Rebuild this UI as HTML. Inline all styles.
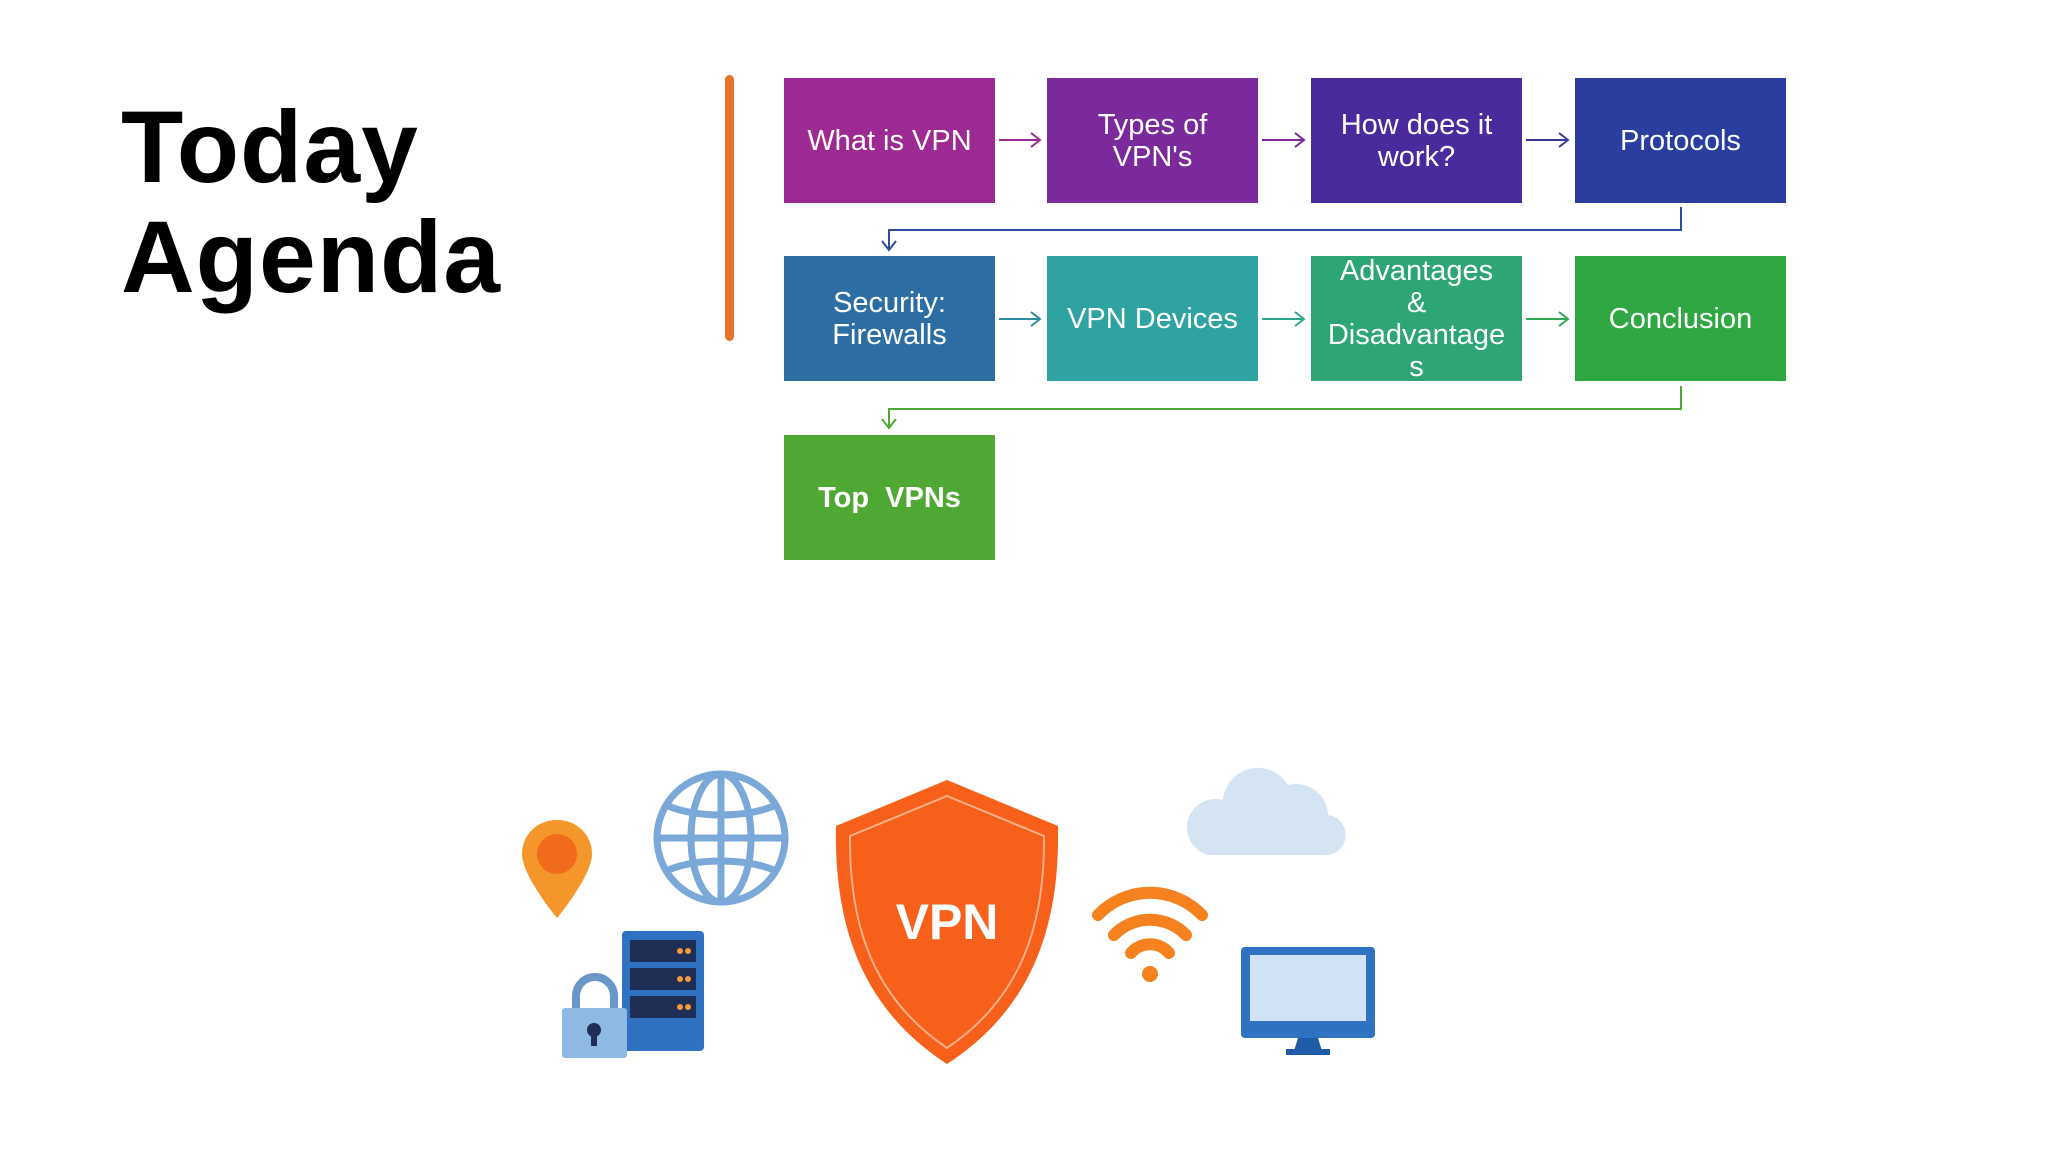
<!DOCTYPE html>
<html><head><meta charset="utf-8"><style>
html,body{margin:0;padding:0;background:#fff;}
body{width:2048px;height:1152px;overflow:hidden;position:relative;font-family:"Liberation Sans",sans-serif;}
.t{position:absolute;left:121px;top:92px;font-size:102px;font-weight:bold;line-height:110px;color:#000;letter-spacing:1px;}
.b{position:absolute;width:211px;height:125px;display:flex;align-items:center;justify-content:center;text-align:center;color:#fff;font-size:29px;line-height:32px;}
</style></head><body>
<div class="t">Today<br>Agenda</div>
<div style="position:absolute;left:725px;top:75px;width:9px;height:266px;background:#e8722e;border-radius:5px;"></div>

<div class="b" style="left:784px;top:78px;background:#9c2a92">What is VPN</div>
<div class="b" style="left:1047px;top:78px;background:#7b2a9c">Types of<br>VPN's</div>
<div class="b" style="left:1311px;top:78px;background:#4a2a9c">How does it<br>work?</div>
<div class="b" style="left:1575px;top:78px;background:#2b3d9e">Protocols</div>
<div class="b" style="left:784px;top:256px;background:#2c6da3">Security:<br>Firewalls</div>
<div class="b" style="left:1047px;top:256px;background:#2ea3a1">VPN Devices</div>
<div class="b" style="left:1311px;top:256px;background:#2ea574;line-height:32px;">Advantages<br>&amp;<br>Disadvantage<br>s</div>
<div class="b" style="left:1575px;top:256px;background:#2fa843">Conclusion</div>
<div class="b" style="left:784px;top:435px;background:#4fa833;font-weight:bold;">Top&nbsp; VPNs</div>

<svg width="2048" height="1152" style="position:absolute;left:0;top:0" fill="none" stroke-width="2">
<g stroke="#9c2a92"><path d="M999 140H1040M1031 133l9 7-9 7"/></g>
<g stroke="#7b2a9c"><path d="M1262 140H1304M1295 133l9 7-9 7"/></g>
<g stroke="#3b3a9c"><path d="M1526 140H1568M1559 133l9 7-9 7"/></g>
<g stroke="#2c4d9e"><path d="M1681 207V230H889V250M882 241l7 9 7-9"/></g>
<g stroke="#2c8aa3"><path d="M999 319H1040M1031 312l9 7-9 7"/></g>
<g stroke="#2ea58a"><path d="M1262 319H1304M1295 312l9 7-9 7"/></g>
<g stroke="#2fa84f"><path d="M1526 319H1568M1559 312l9 7-9 7"/></g>
<g stroke="#4fa833"><path d="M1681 386V409H889V428M882 419l7 9 7-9"/></g>

<!-- pin -->
<path d="M557 820c-20 0-35 15-35 34 0 22 35 64 35 64s35-42 35-64c0-19-15-34-35-34z" fill="#f5962a" stroke="none"/>
<circle cx="557" cy="854" r="20" fill="#f26a1b"/>
<!-- globe -->
<g stroke="#7aa8d8" stroke-width="7">
<circle cx="721" cy="838" r="64"/>
<ellipse cx="721" cy="838" rx="30" ry="64"/>
<path d="M721 774V902M657 838H785M668 806c30 12 76 12 106 0M668 870c30-12 76-12 106 0"/>
</g>
<!-- server -->
<rect x="622" y="931" width="82" height="120" rx="4" fill="#2f72c2" stroke="none"/>
<rect x="630" y="940" width="66" height="22" fill="#1e2e55" stroke="none"/>
<rect x="630" y="968" width="66" height="22" fill="#1e2e55" stroke="none"/>
<rect x="630" y="996" width="66" height="22" fill="#1e2e55" stroke="none"/>
<g fill="#f59a3a" stroke="none"><circle cx="680" cy="951" r="3"/><circle cx="688" cy="951" r="3"/><circle cx="680" cy="979" r="3"/><circle cx="688" cy="979" r="3"/><circle cx="680" cy="1007" r="3"/><circle cx="688" cy="1007" r="3"/></g>
<!-- lock -->
<path d="M576 1010v-14a19 19 0 0 1 38 0v14" stroke="#6a96c8" stroke-width="8"/>
<rect x="562" y="1008" width="65" height="50" rx="3" fill="#8db9e2" stroke="none"/>
<circle cx="594" cy="1030" r="7" fill="#1e2e55"/><rect x="591" y="1030" width="6" height="16" fill="#1e2e55" stroke="none"/>
<!-- shield -->
<path d="M947 780 L1058 826 C1060 930 1030 1010 947 1064 C864 1010 834 930 836 826 Z" fill="#f7601a" stroke="none"/>
<path d="M947 796 L1044 836 C1045 930 1018 1000 947 1048 C876 1000 849 930 850 836 Z" stroke="#ffb08a" stroke-width="2"/>
<text x="947" y="939" fill="#fff" stroke="none" font-family="Liberation Sans,sans-serif" font-weight="bold" font-size="50" text-anchor="middle">VPN</text>
<!-- wifi -->
<g stroke="#f5821f" stroke-width="12" stroke-linecap="round">
<path d="M1098 915a72 72 0 0 1 104 0"/><path d="M1114 935a50 50 0 0 1 72 0"/><path d="M1131 953a25 25 0 0 1 38 0"/>
</g>
<circle cx="1150" cy="974" r="8" fill="#f5821f" stroke="none"/>
<!-- cloud -->
<path d="M1208 855h115a20 20 0 0 0 5-40 32 32 0 0 0-40-30 35 35 0 0 0-65 15 28 28 0 0 0-15 55z" fill="#d4e4f2" stroke="none"/>
<!-- monitor -->
<rect x="1241" y="947" width="134" height="91" rx="4" fill="#2f72c2" stroke="none"/>
<rect x="1250" y="955" width="116" height="66" fill="#cfe3f5" stroke="none"/>
<path d="M1298 1038h20l4 13h-28z" fill="#1f5ca8" stroke="none"/>
<rect x="1286" y="1049" width="44" height="6" fill="#1f5ca8" stroke="none"/>
</svg>
</body></html>
